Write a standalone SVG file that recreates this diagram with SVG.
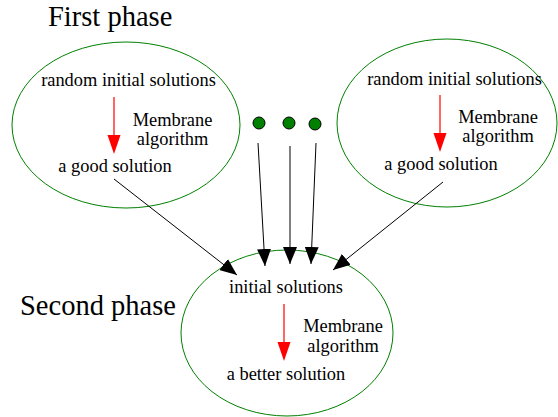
<svg xmlns="http://www.w3.org/2000/svg" width="558" height="417" viewBox="0 0 558 417">
<style>
.ell{fill:none;stroke:#008000;stroke-width:1}
.t{font-family:'Liberation Serif','Times New Roman',Times,serif;font-size:18.4px;fill:#000;text-anchor:middle}
.big{font-family:'Liberation Serif','Times New Roman',Times,serif;font-size:28.5px;fill:#000}
.conn{stroke:#000;stroke-width:1;fill:none;marker-end:url(#ah)}
.red{stroke:#ff0000;stroke-width:1.2;fill:none;marker-end:url(#rh)}
.dot{fill:#008000;stroke:#000;stroke-width:1}
</style>
<defs>
<marker id="ah" markerUnits="userSpaceOnUse" markerWidth="18" markerHeight="14" refX="17" refY="7" orient="auto">
<path d="M0,0 L17,7 L0,14 z" fill="#000"/>
</marker>
<marker id="rh" markerUnits="userSpaceOnUse" markerWidth="20" markerHeight="14" refX="0" refY="6.5" orient="auto">
<path d="M0,0 L19,6.5 L0,13 z" fill="#ff0000"/>
</marker>
</defs>
<rect width="558" height="417" fill="#fff"/>
<text class="big" x="48" y="25.5">First phase</text>
<text class="big" x="20" y="315">Second phase</text>

<g id="phase1-left">
<ellipse class="ell" cx="126" cy="125" rx="114" ry="83"/>
<text class="t" x="128.5" y="86">random initial solutions</text>
<line class="red" x1="114" y1="97" x2="114" y2="135"/>
<text class="t" x="172.5" y="126">Membrane</text>
<text class="t" x="172.5" y="145">algorithm</text>
<text class="t" x="115" y="172">a good solution</text>
</g>

<g id="phase1-right">
<ellipse class="ell" cx="447" cy="123" rx="110" ry="84"/>
<text class="t" x="454.5" y="85">random initial solutions</text>
<line class="red" x1="440" y1="95" x2="440" y2="133"/>
<text class="t" x="498" y="123">Membrane</text>
<text class="t" x="498" y="142">algorithm</text>
<text class="t" x="441" y="170">a good solution</text>
</g>

<g id="dots">
<circle class="dot" cx="259" cy="123" r="6"/>
<circle class="dot" cx="289" cy="123" r="6"/>
<circle class="dot" cx="315" cy="124" r="6"/>
</g>

<g id="phase2">
<ellipse class="ell" cx="287" cy="333" rx="106" ry="83"/>
<text class="t" x="286" y="293">initial solutions</text>
<line class="red" x1="284" y1="304" x2="284" y2="342"/>
<text class="t" x="343" y="332">Membrane</text>
<text class="t" x="343" y="352">algorithm</text>
<text class="t" x="286" y="380">a better solution</text>
</g>

<g id="connectors">
<line class="conn" x1="114" y1="179" x2="237" y2="275"/>
<line class="conn" x1="443" y1="182" x2="333" y2="270"/>
<line class="conn" x1="258" y1="143" x2="265" y2="266"/>
<line class="conn" x1="290" y1="146" x2="290" y2="264"/>
<line class="conn" x1="316" y1="143" x2="311" y2="264"/>
</g>
</svg>
